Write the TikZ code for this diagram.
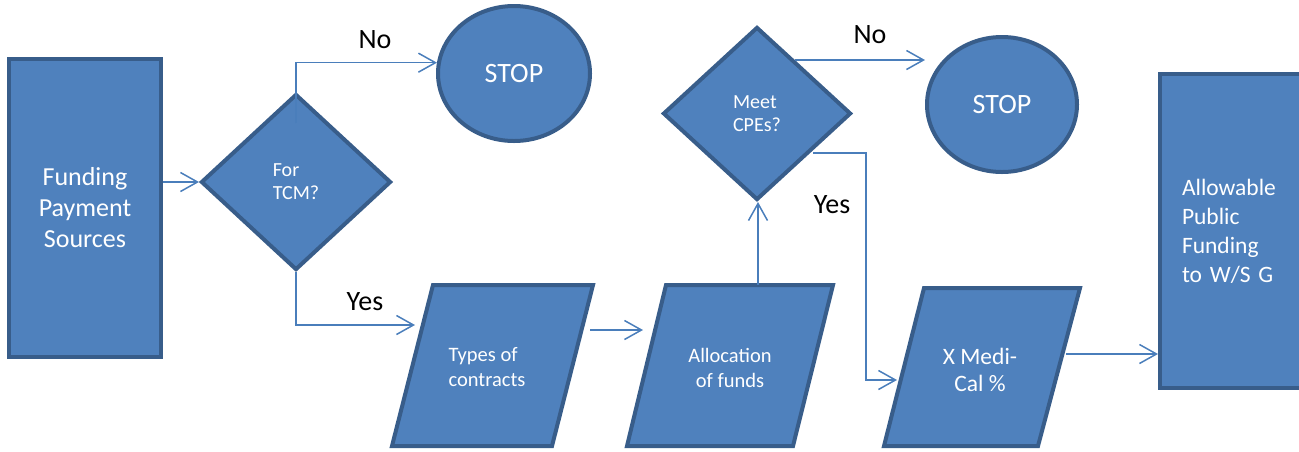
\documentclass[tikz,border=0pt]{standalone}
\usepackage{fontspec}
\setmainfont{Carlito}
\usetikzlibrary{shapes.geometric,arrows.meta,calc}
\definecolor{boxfill}{HTML}{4F81BD}
\definecolor{boxline}{HTML}{385D8A}
\definecolor{connc}{HTML}{4A7EBB}
\begin{document}
\begin{tikzpicture}[x=1pt,y=-1pt,
  shp/.style={fill=boxfill,draw=boxline,line width=4pt},
  txt/.style={text=white,font=\fontsize{20}{23}\selectfont,align=left},
  conn/.style={draw=connc,line width=1.5pt,-{Straight Barb[length=17pt,width=19pt]}},
  lbl/.style={font=\fontsize{28}{32}\selectfont,text=black}]
\clip (0,0) rectangle (1299,451);
\useasboundingbox (0,0) rectangle (1299,451);
% shapes
\node[shp,rectangle,minimum width=152pt,minimum height=298pt,inner sep=0pt,text=white,font=\fontsize{26}{31}\selectfont,align=center] (fund) at (85,208) {Funding\\Payment\\Sources};
\node[shp,diamond,minimum width=190pt,minimum height=176pt,inner sep=0pt,txt] (d1) at (296,182) {For\\TCM?};
\node[shp,ellipse,minimum width=152pt,minimum height=135pt,inner sep=0pt,text=white,font=\fontsize{28}{32}\selectfont] (s1) at (514,73.5) {STOP};
\node[shp,ellipse,minimum width=150pt,minimum height=135pt,inner sep=0pt,text=white,font=\fontsize{28}{32}\selectfont] (s2) at (1002,104.5) {STOP};
\node[shp,diamond,minimum width=188pt,minimum height=173pt,inner sep=0pt,txt] (d2) at (757,113.5) {Meet\\CPEs?};
\node[shp,rectangle,minimum height=314pt,inner xsep=22pt,inner ysep=0pt,text width=101pt,align=left,text=white,font=\fontsize{23.5}{29}\selectfont] (allow) at (1232.5,231) {Allowable\\Public\\Funding\\to W/S G};
\draw[shp] (392,446) -- (433,285) -- (593,285) -- (552,446) -- cycle;
\node[txt,font=\fontsize{20.5}{25}\selectfont] (types) at (487,367) {Types of\\contracts};
\draw[shp] (627,446) -- (666,285) -- (833,285) -- (793,446) -- cycle;
\node[txt,align=center,font=\fontsize{20.5}{25}\selectfont] (alloc) at (730,368) {Allocation\\of funds};
\draw[shp] (884,446) -- (924,288) -- (1080,288) -- (1038,446) -- cycle;
\node[txt,align=center,font=\fontsize{23.5}{27}\selectfont] (medi) at (980,370) {X Medi-\\Cal \%};
% connector ends
\coordinate (p1in) at (415,325);
\coordinate (p1out) at (590,330);
\coordinate (p2in) at (643,330);
\coordinate (p2top) at (758,285);
\coordinate (d2no) at (795,60);
\coordinate (d2yes) at (813,153);
\coordinate (p3in) at (897,380);
\coordinate (p3out) at (1066,354);
% connectors
\draw[conn] (fund.east |- d1.west) -- (d1.west);
\draw[conn] ($(d1.center)+(0,-59)$) |- (s1.172);
\draw[conn] (d1.south) |- (p1in);
\draw[conn] (p1out) -- (p2in);
\draw[conn] (p2top) -- (p2top |- d2.south);
\draw[conn] (d2no) -- (d2no -| s2.west);
\draw[conn] (d2yes) -- ++(53,0) |- (p3in);
\draw[conn] (p3out) -- (p3out -| allow.west);
% labels
\node[lbl] (no1) at (375,40) {No};
\node[lbl] (yes1) at (365,302) {Yes};
\node[lbl] (no2) at (870,35) {No};
\node[lbl] (yes2) at (832,205) {Yes};
\end{tikzpicture}
\end{document}
